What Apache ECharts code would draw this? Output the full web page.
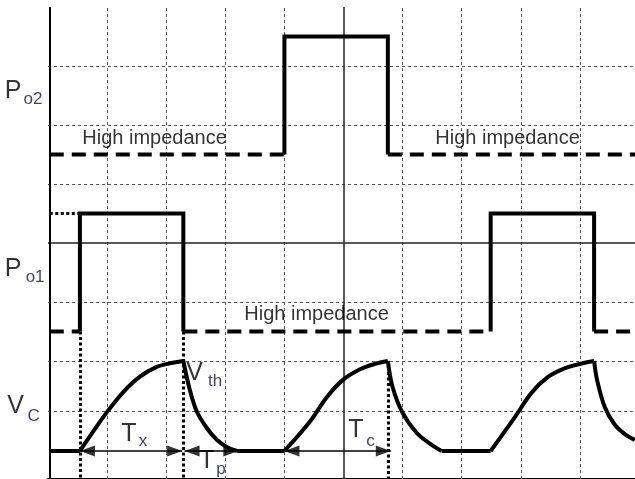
<!DOCTYPE html>
<html><head><meta charset="utf-8">
<script src="https://cdn.jsdelivr.net/npm/echarts@6/dist/echarts.min.js"></script>
<style>html,body{margin:0;padding:0;background:#fff}#c{width:635px;height:479px}</style>
</head><body><div id="c"></div>
<script>
// ---- axis extents (grid units) ----
const xMax = 9.932;
const yMax = 8;
// ---- grid lines ----
const gridXDashed = [1, 2, 3, 4, 6, 7, 8, 9];
const gridYDashed = [1.14, 2, 3, 5, 6, 7];
const crossX = [5];
const crossY = [4];
const leftBorderX = [0.03];
// ---- Po2 ----
const po2Levels = [5.5, 7.5];           // low (high impedance), high
const po2Pulse = [4.0, 5.75];           // rise, fall
// ---- Po1 ----
const po1Levels = [2.5, 4.5];
const po1Pulses = [[0.54, 2.29], [7.49, 9.24]];
// ---- Vc ----
const vcBase = 0.475;
const vcFlat0 = [[0.03, 0.475], [0.54, 0.475]];
const vcRise1 = [[0.54, 0.475], [0.76, 0.8], [1.01, 1.15], [1.27, 1.47], [1.55, 1.73], [1.84, 1.9], [2.11, 1.97], [2.29, 2.0]];
const vcFall1 = [[2.29, 2.0], [2.40, 1.51], [2.52, 1.14], [2.69, 0.86], [2.86, 0.66], [3.03, 0.54], [3.2, 0.475]];
const vcFlat1 = [[3.2, 0.475], [4.0, 0.475]];
const vcRise2 = [[4.0, 0.475], [4.43, 0.97], [4.72, 1.39], [4.99, 1.68], [5.28, 1.86], [5.53, 1.95], [5.75, 2.0]];
const vcFall2 = [[5.75, 2.0], [5.83, 1.56], [6.0, 1.12], [6.24, 0.78], [6.46, 0.6], [6.66, 0.475]];
const vcFlat2 = [[6.66, 0.475], [7.49, 0.475]];
const vcRise3 = [[7.49, 0.475], [7.90, 1.05], [8.18, 1.46], [8.46, 1.73], [8.75, 1.88], [9.0, 1.95], [9.24, 2.0]];
const vcFall3 = [[9.24, 2.0], [9.29, 1.68], [9.42, 1.22], [9.59, 0.92], [9.75, 0.77], [9.93, 0.66]];
// ---- timing arrows (left tip, right tip) at Vc base ----
const arrows = [[0.54, 2.27], [2.31, 3.22], [4.0, 5.80]];
const arrowHalfLen = 0.127;   // half arrowhead length in x units (7.5 px)
// ---- dotted guides: [x, yTop, yBottom] ----
const guides = [[0.54, 2.5, 0], [2.29, 2.5, 0], [5.75, 2.0, 0]];
// ---- text labels: [text, x, y, kind] ----
const labels = [
  ['P', -0.7225, 6.568, 'main'], ['o2', -0.404, 6.424, 'sub'],
  ['P', -0.7225, 3.542, 'main'], ['o1', -0.37, 3.407, 'sub'],
  ['V', -0.68, 1.22, 'main'], ['C', -0.338, 1.05, 'sub'],
  ['V', 2.349, 1.78, 'main'], ['th', 2.717, 1.644, 'sub'],
  ['T', 1.249, 0.746, 'main'], ['x', 1.545, 0.627, 'sub'],
  ['T', 2.569, 0.297, 'main'], ['p', 2.856, 0.153, 'sub'],
  ['T', 5.09, 0.814, 'main'], ['c', 5.394, 0.627, 'sub'],
  ['High impedance', 0.589, 5.763, 'note'],
  ['High impedance', 6.562, 5.763, 'note'],
  ['High impedance', 3.33, 2.78, 'note']
];

const FONT = 'Liberation Sans, Arial, sans-serif';
const kindStyle = {
  main: {fontSize: 25, color: '#000'},
  sub: {fontSize: 17, color: '#10123a'},
  note: {fontSize: 20, color: '#000'}
};

function seg(data, type, width, smooth) {
  return {
    type: 'line', data: data, symbol: 'none', silent: true, smooth: smooth || false,
    lineStyle: {color: '#000', width: width, type: type, join: 'miter', cap: 'butt'}, z: 5
  };
}

const series = [];
// grid lines + borders
series.push({
  type: 'line', data: [], silent: true, z: 1,
  markLine: {
    silent: true, symbol: 'none', label: {show: false}, animation: false,
    data: [
      ...gridXDashed.map(v => ({xAxis: v, lineStyle: {color: '#555', width: 1, type: [3, 3]}})),
      ...gridYDashed.map(v => ({yAxis: v, lineStyle: {color: '#555', width: 1, type: [3, 3]}})),
      ...crossX.map(v => ({xAxis: v, lineStyle: {color: '#222', width: 1.5, type: 'solid'}})),
      ...crossY.map(v => ({yAxis: v, lineStyle: {color: '#222', width: 1.5, type: 'solid'}})),
      ...leftBorderX.map(v => ({xAxis: v, lineStyle: {color: '#000', width: 2, type: 'solid'}}))
    ]
  }
});
// dotted guides
series.push({
  type: 'line', data: [], silent: true, z: 2,
  markLine: {
    silent: true, symbol: 'none', label: {show: false}, animation: false,
    lineStyle: {color: '#000', width: 3, type: [3, 2.5]},
    data: guides.map(g => [{coord: [g[0], g[1]]}, {coord: [g[0], g[2]]}])
  }
});
// Po2
series.push(seg([[leftBorderX[0], po2Levels[0]], [po2Pulse[0], po2Levels[0]]], [14, 8], 4));
series.push(seg([[po2Pulse[0], po2Levels[0]], [po2Pulse[0], po2Levels[1]], [po2Pulse[1], po2Levels[1]], [po2Pulse[1], po2Levels[0]]], 'solid', 4));
series.push(seg([[po2Pulse[1], po2Levels[0]], [xMax, po2Levels[0]]], [14, 8], 4));
// Po1
series.push(seg([[leftBorderX[0], po1Levels[1]], [po1Pulses[0][0], po1Levels[1]]], [3, 2.5], 3));
series.push(seg([[leftBorderX[0], po1Levels[0]], [po1Pulses[0][0], po1Levels[0]]], [14, 8], 4));
po1Pulses.forEach((p, i) => {
  series.push(seg([[p[0], po1Levels[0]], [p[0], po1Levels[1]], [p[1], po1Levels[1]], [p[1], po1Levels[0]]], 'solid', 4));
  const nextStart = i + 1 < po1Pulses.length ? po1Pulses[i + 1][0] : xMax;
  series.push(seg([[p[1], po1Levels[0]], [nextStart, po1Levels[0]]], [14, 8], 4));
});
// Vc
[vcFlat0, vcFlat1, vcFlat2].forEach(d => series.push(seg(d, 'solid', 4)));
[vcRise1, vcFall1, vcRise2, vcFall2, vcRise3, vcFall3].forEach(d => series.push(seg(d, 'solid', 4, 0.35)));
// arrow shafts
series.push({
  type: 'line', data: [], silent: true, z: 6,
  markLine: {
    silent: true, symbol: 'none', label: {show: false}, animation: false,
    lineStyle: {color: '#000', width: 1.5, type: 'solid'},
    data: arrows.map(a => [{coord: [a[0], vcBase]}, {coord: [a[1], vcBase]}])
  }
});
// arrow heads
const heads = [];
arrows.forEach(a => {
  heads.push({value: [a[0] + arrowHalfLen, vcBase], symbolRotate: 90});
  heads.push({value: [a[1] - arrowHalfLen, vcBase], symbolRotate: -90});
});
series.push({
  type: 'scatter', silent: true, z: 7, symbol: 'triangle', symbolSize: [11, 15],
  itemStyle: {color: '#000'}, data: heads
});
// labels
series.push({
  type: 'scatter', clip: false, silent: true, symbolSize: 1, z: 10,
  itemStyle: {color: 'rgba(0,0,0,0)'},
  data: labels.map(l => ({
    value: [l[1], l[2]],
    label: {
      show: true, formatter: l[0], position: [0, 0], align: 'left', verticalAlign: 'middle',
      fontFamily: FONT, fontSize: kindStyle[l[3]].fontSize, color: kindStyle[l[3]].color
    }
  }))
});

const chart = echarts.init(document.getElementById('c'), null, {renderer: 'canvas'});
chart.setOption({
  animation: false,
  backgroundColor: '#fff',
  grid: {left: 48, right: 0, top: 7, bottom: 0, containLabel: false},
  xAxis: {
    type: 'value', min: 0, max: xMax, position: 'top',
    axisLine: {show: true, lineStyle: {color: '#000', width: 2}},
    axisTick: {show: false}, axisLabel: {show: false}, splitLine: {show: false}
  },
  yAxis: {
    type: 'value', min: 0, max: yMax,
    axisLine: {show: false}, axisTick: {show: false}, axisLabel: {show: false}, splitLine: {show: false}
  },
  series: series
});
</script>
</body></html>
